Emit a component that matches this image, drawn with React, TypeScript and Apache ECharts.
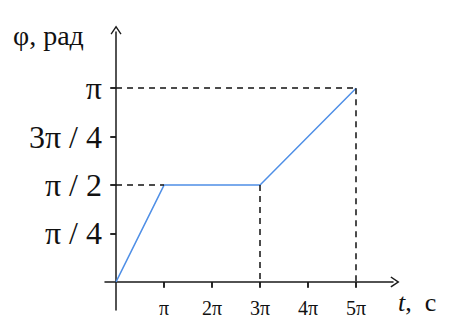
import React, { useEffect, useRef } from "react";
import * as echarts from "echarts";

// x in units of π seconds, y in units of π radians
const tValues = [0, 1, 3, 5];
const phiValues = [0, 0.5, 0.5, 1];
const xTicks = [1, 2, 3, 4, 5];
const yTicks = [0.25, 0.5, 0.75, 1];
const yTickLabels: Record<string, string> = { "0.25": "π / 4", "0.5": "π / 2", "0.75": "3π / 4", "1": "π" };
const guides: [number, number][][] = [
  [[0, 1], [5, 1]],
  [[0, 0.5], [1, 0.5]],
  [[3, 0.5], [3, 0]],
  [[5, 1], [5, 0]],
];

const SERIF = "Liberation Serif";
const AXIS = "#1a1a1a";
const chevron = "path://M0,0 L6,9 L4.8,10 L0,2.8 L-4.8,10 L-6,9 Z";

export default function App() {
  const ref = useRef<HTMLDivElement>(null);
  useEffect(() => {
    const chart = echarts.init(ref.current!, null, { renderer: "svg" });
    const xMin = -0.23, xMax = 5.77, yMin = -0.145, yMax = 1.29;
    const baseX = {
      type: "value" as const,
      min: xMin,
      max: xMax,
      splitLine: { show: false },
    };
    const baseY = {
      type: "value" as const,
      min: yMin,
      max: yMax,
      splitLine: { show: false },
    };
    chart.setOption({
      animation: false,
      grid: { left: 105, right: 61, top: 32, bottom: 19, containLabel: false, outerBoundsMode: "none" },
      xAxis: [
        {
          ...baseX,
          axisLine: {
            onZero: true,
            lineStyle: { color: AXIS, width: 1.5 },
            symbol: ["none", chevron],
            symbolSize: [11, 10],
            symbolOffset: [0, 2],
          },
          axisTick: { show: true, inside: false, length: 6, customValues: xTicks, lineStyle: { color: AXIS, width: 1.5 } },
          axisLabel: {
            show: true,
            customValues: xTicks,
            margin: -12,
            formatter: (v: number) => (v === 1 ? "π" : v + "π"),
            fontFamily: SERIF,
            fontSize: 20,
            color: "#111",
          },
        },
        {
          ...baseX,
          axisLine: { show: false, onZero: true },
          axisTick: { show: true, inside: true, length: 5, customValues: xTicks, lineStyle: { color: AXIS, width: 1.5 } },
          axisLabel: { show: false },
        },
      ],
      yAxis: [
        {
          ...baseY,
          axisLine: {
            onZero: true,
            lineStyle: { color: AXIS, width: 1.5 },
            symbol: ["none", chevron],
            symbolSize: [11, 10],
            symbolOffset: [0, 2],
          },
          axisTick: { show: true, inside: false, length: 6, customValues: yTicks, lineStyle: { color: AXIS, width: 1.5 } },
          axisLabel: {
            show: true,
            customValues: yTicks,
            margin: 3,
            formatter: (v: number) => yTickLabels[String(v)] ?? "",
            fontFamily: SERIF,
            fontSize: 32,
            color: "#111",
          },
        },
        {
          ...baseY,
          axisLine: { show: false, onZero: true },
          axisTick: { show: true, inside: true, length: 5, customValues: yTicks, lineStyle: { color: AXIS, width: 1.5 } },
          axisLabel: { show: false },
        },
      ],
      graphic: [
        {
          type: "text",
          left: 13,
          top: 21,
          style: { text: "φ, рад", font: `28px ${SERIF}`, fill: "#111" },
        },
        {
          type: "text",
          left: 398,
          top: 289,
          style: {
            text: "{i|t},  c",
            font: `26px ${SERIF}`,
            fill: "#111",
            rich: { i: { fontStyle: "italic", fontFamily: SERIF, fontSize: 26 } },
          } as any,
        },
      ],
      series: [
        {
          type: "line",
          data: tValues.map((t, i) => [t, phiValues[i]]),
          xAxisIndex: 0,
          yAxisIndex: 0,
          showSymbol: false,
          symbol: "none",
          lineStyle: { color: "#4f8fe6", width: 1.5 },
          markLine: {
            silent: true,
            symbol: "none",
            label: { show: false },
            lineStyle: { color: "#111", width: 1.5, type: [6, 5] },
            data: guides.map((g) => [{ coord: g[0] }, { coord: g[1] }]),
          },
          z: 3,
        },
      ],
    });
    return () => chart.dispose();
  }, []);
  return (
    <div
      ref={ref}
      style={{ position: "fixed", left: 0, top: 0, width: 454, height: 329, background: "#fff" }}
    />
  );
}
